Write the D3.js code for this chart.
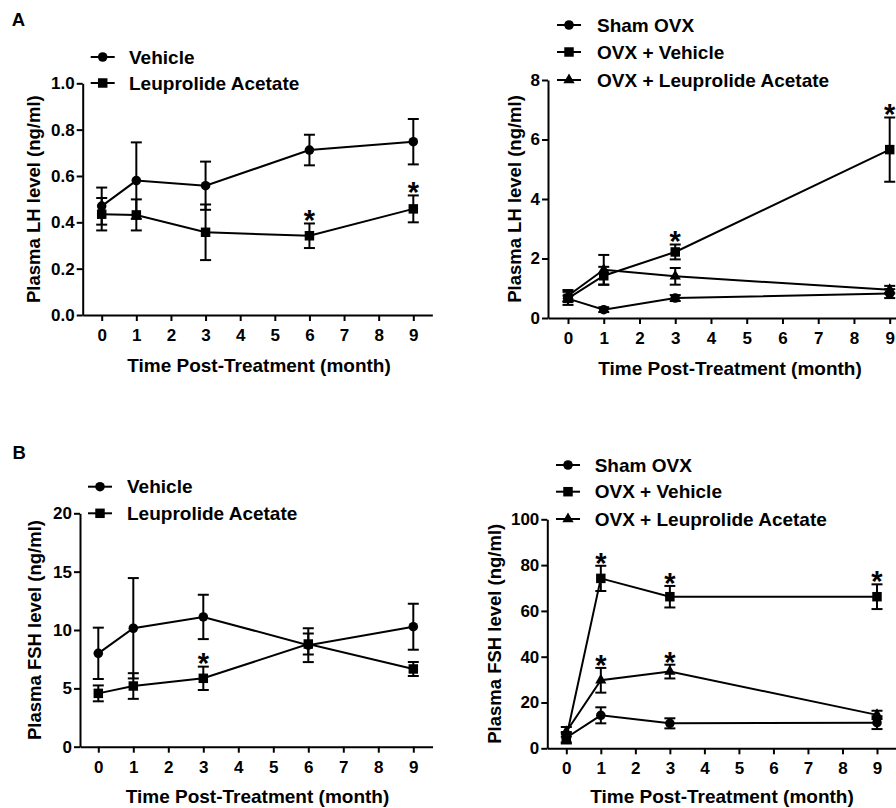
<!DOCTYPE html>
<html>
<head>
<meta charset="utf-8">
<script src="https://cdn.jsdelivr.net/npm/d3@7"></script>
<style>
body { margin: 0; background: #fff; }
text { font-family: "Liberation Sans", Arial, sans-serif; font-weight: bold; fill: #000; }
</style>
</head>
<body>
<script>
// ---- data ----
const monthTicks = [0, 1, 2, 3, 4, 5, 6, 7, 8, 9]

// A left: LH, vehicle vs leuprolide
const lhMonths = [0, 1, 3, 6, 9]
const lhVehicle = [0.47, 0.58, 0.558, 0.712, 0.748]
const lhVehicleErr = [0.08, 0.165, 0.104, 0.066, 0.098]
const lhLeup = [0.435, 0.432, 0.357, 0.342, 0.458]
const lhLeupErr = [0.07, 0.067, 0.12, 0.053, 0.058]
const lhLeupStars = [6, 9]
const lhTicks = [0, 0.2, 0.4, 0.6, 0.8, 1.0]

// A right: LH, OVX groups
const ovxMonths = [0, 1, 3, 9]
const lhSham = [0.65, 0.28, 0.67, 0.82]
const lhShamErr = [0.1, 0.08, 0.1, 0.15]
const lhOvxVeh = [0.66, 1.42, 2.22, 5.66]
const lhOvxVehErr = [0.22, 0.3, 0.25, 1.08]
const lhOvxLeup = [0.75, 1.62, 1.4, 0.95]
const lhOvxLeupErr = [0.19, 0.5, 0.28, 0.13]
const lhOvxVehStars = [3, 9]
const lhOvxTicks = [0, 2, 4, 6, 8]

// B left: FSH, vehicle vs leuprolide
const fshMonths = [0, 1, 3, 6, 9]
const fshVehicle = [8.0, 10.15, 11.12, 8.7, 10.28]
const fshVehicleErr = [2.2, 4.3, 1.9, 1.45, 1.97]
const fshLeup = [4.57, 5.2, 5.86, 8.8, 6.66]
const fshLeupErr = [0.68, 1.1, 1.0, 0.9, 0.6]
const fshLeupStars = [3]
const fshTicks = [0, 5, 10, 15, 20]

// B right: FSH, OVX groups
const fshSham = [4.6, 14.4, 10.9, 11.2]
const fshShamErr = [2.0, 3.5, 2.2, 2.8]
const fshOvxVeh = [4.6, 74.2, 66.2, 66.2]
const fshOvxVehErr = [2.5, 5.5, 4.7, 5.4]
const fshOvxLeup = [7.2, 29.7, 33.5, 14.6]
const fshOvxLeupErr = [2.1, 5.4, 3.0, 1.8]
const fshOvxVehStars = [1, 3, 9]
const fshOvxLeupStars = [1, 3]
const fshOvxTicks = [0, 20, 40, 60, 80, 100]

const w = 896
const h = 808

const svg = d3.select("body")
  .append("svg")
  .attr("width", w)
  .attr("height", h)

function marker(shape) {
  if (shape == "circle") return d3.symbol(d3.symbolCircle, 72)()
  if (shape == "square") return d3.symbol(d3.symbolSquare, 90)()
  return d3.symbol(d3.symbolTriangle, 55)()
}

function drawPanel(p) {
  const g = svg.append("g")

  const xscale = d3.scaleLinear()
    .domain([0, 9])
    .range([p.x0, p.x9])
  const yscale = d3.scaleLinear()
    .domain([0, p.yMax])
    .range([p.yBottom, p.yTop])

  // x axis runs from the y axis out past month 9
  const xAxisScale = d3.scaleLinear()
    .domain([xscale.invert(p.yAxisX), 9.55])
    .range([p.yAxisX, xscale(9.55)])

  const xAxis = d3.axisBottom(xAxisScale)
    .tickValues(monthTicks)
    .tickFormat(d3.format("d"))
    .tickSize(6)
    .tickSizeOuter(0)
    .tickPadding(8)
  g.append("g")
    .attr("transform", "translate(0," + p.yBottom + ")")
    .call(xAxis)

  const yAxis = d3.axisLeft(yscale)
    .tickValues(p.ticks)
    .tickFormat(p.fmt)
    .tickSize(6)
    .tickSizeOuter(0)
    .tickPadding(2)
  g.append("g")
    .attr("transform", "translate(" + p.yAxisX + ",0)")
    .call(yAxis)

  g.selectAll(".domain, .tick line")
    .attr("stroke", "#000")
    .attr("stroke-width", 2)
  g.selectAll(".tick text")
    .style("font-size", "17px")
    .style("font-family", "'Liberation Sans', Arial, sans-serif")
    .style("font-weight", "bold")
    .attr("fill", "#000")

  // axis titles
  g.append("text")
    .attr("x", p.titleX)
    .attr("y", p.titleY)
    .attr("text-anchor", "middle")
    .style("font-size", "19px")
    .text("Time Post-Treatment (month)")

  g.append("text")
    .attr("transform", "translate(" + p.yLabelX + "," + (p.yTop + p.yBottom) / 2 + ") rotate(-90)")
    .attr("text-anchor", "middle")
    .style("font-size", "18.5px")
    .text(p.yLabel)

  const line = d3.line()
    .x(d => xscale(d[0]))
    .y(d => yscale(d[1]))

  p.series.forEach(s => {
    const pts = s.months.map((m, i) => [m, s.values[i], s.errors[i]])

    // error bars
    const eb = g.append("g")
    eb.selectAll("line.stem")
      .data(pts)
      .enter()
      .append("line")
      .attr("x1", d => xscale(d[0]))
      .attr("x2", d => xscale(d[0]))
      .attr("y1", d => yscale(d[1] - d[2]))
      .attr("y2", d => yscale(d[1] + d[2]))
      .attr("stroke", "#000")
      .attr("stroke-width", 2)
    eb.selectAll("line.capTop")
      .data(pts)
      .enter()
      .append("line")
      .attr("x1", d => xscale(d[0]) - 5.5)
      .attr("x2", d => xscale(d[0]) + 5.5)
      .attr("y1", d => yscale(d[1] + d[2]))
      .attr("y2", d => yscale(d[1] + d[2]))
      .attr("stroke", "#000")
      .attr("stroke-width", 2)
    eb.selectAll("line.capBot")
      .data(pts)
      .enter()
      .append("line")
      .attr("x1", d => xscale(d[0]) - 5.5)
      .attr("x2", d => xscale(d[0]) + 5.5)
      .attr("y1", d => yscale(d[1] - d[2]))
      .attr("y2", d => yscale(d[1] - d[2]))
      .attr("stroke", "#000")
      .attr("stroke-width", 2)

    g.append("path")
      .datum(pts)
      .attr("d", line)
      .attr("fill", "none")
      .attr("stroke", "#000")
      .attr("stroke-width", 2)

    g.selectAll(null)
      .data(pts)
      .enter()
      .append("path")
      .attr("d", marker(s.shape))
      .attr("transform", d => "translate(" + xscale(d[0]) + "," + yscale(d[1]) + ")")
      .attr("fill", "#000")

    // significance stars above the upper error cap
    const starPts = pts.filter(d => (s.stars || []).includes(d[0]))
    g.selectAll(null)
      .data(starPts)
      .enter()
      .append("text")
      .attr("x", d => xscale(d[0]))
      .attr("y", d => yscale(d[1] + d[2]) - 10 + 0.58 * 29)
      .attr("text-anchor", "middle")
      .style("font-size", "29px")
      .style("font-weight", "bold")
      .text("*")
  })

  // legend
  p.series.forEach((s, i) => {
    const ly = p.legendY[i]
    g.append("line")
      .attr("x1", p.legendX)
      .attr("x2", p.legendX + 24)
      .attr("y1", ly)
      .attr("y2", ly)
      .attr("stroke", "#000")
      .attr("stroke-width", 2)
    g.append("path")
      .attr("d", marker(s.shape))
      .attr("transform", "translate(" + (p.legendX + 12) + "," + ly + ")")
      .attr("fill", "#000")
    g.append("text")
      .attr("x", p.legendTextX)
      .attr("y", ly + 6.5)
      .style("font-size", "19px")
      .text(s.name)
  })
}

drawPanel({
  x0: 101.7, x9: 413.3, yAxisX: 82.7, yTop: 83.3, yBottom: 315, yMax: 1.0,
  ticks: lhTicks, fmt: d3.format(".1f"), yLabel: "Plasma LH level (ng/ml)",
  yLabelX: 40, titleX: 259, titleY: 372,
  legendX: 90.7, legendY: [57, 83], legendTextX: 129,
  series: [
    { name: "Vehicle", shape: "circle", months: lhMonths, values: lhVehicle, errors: lhVehicleErr },
    { name: "Leuprolide Acetate", shape: "square", months: lhMonths, values: lhLeup, errors: lhLeupErr, stars: lhLeupStars }
  ]
})

drawPanel({
  x0: 568, x9: 889.7, yAxisX: 548, yTop: 80, yBottom: 318, yMax: 8,
  ticks: lhOvxTicks, fmt: d3.format("d"), yLabel: "Plasma LH level (ng/ml)",
  yLabelX: 521, titleX: 730, titleY: 375,
  legendX: 557, legendY: [25, 52, 80], legendTextX: 597,
  series: [
    { name: "Sham OVX", shape: "circle", months: ovxMonths, values: lhSham, errors: lhShamErr },
    { name: "OVX + Vehicle", shape: "square", months: ovxMonths, values: lhOvxVeh, errors: lhOvxVehErr, stars: lhOvxVehStars },
    { name: "OVX + Leuprolide Acetate", shape: "triangle", months: ovxMonths, values: lhOvxLeup, errors: lhOvxLeupErr }
  ]
})

drawPanel({
  x0: 98.3, x9: 413.3, yAxisX: 80, yTop: 513.3, yBottom: 746.7, yMax: 20,
  ticks: fshTicks, fmt: d3.format("d"), yLabel: "Plasma FSH level (ng/ml)",
  yLabelX: 41, titleX: 257.5, titleY: 803,
  legendX: 88, legendY: [486.7, 513.3], legendTextX: 127,
  series: [
    { name: "Vehicle", shape: "circle", months: fshMonths, values: fshVehicle, errors: fshVehicleErr },
    { name: "Leuprolide Acetate", shape: "square", months: fshMonths, values: fshLeup, errors: fshLeupErr, stars: fshLeupStars }
  ]
})

drawPanel({
  x0: 566.3, x9: 877, yAxisX: 547.3, yTop: 519.3, yBottom: 748.3, yMax: 100,
  ticks: fshOvxTicks, fmt: d3.format("d"), yLabel: "Plasma FSH level (ng/ml)",
  yLabelX: 501, titleX: 722, titleY: 803,
  legendX: 556, legendY: [465, 491.7, 519], legendTextX: 594.7,
  series: [
    { name: "Sham OVX", shape: "circle", months: ovxMonths, values: fshSham, errors: fshShamErr },
    { name: "OVX + Vehicle", shape: "square", months: ovxMonths, values: fshOvxVeh, errors: fshOvxVehErr, stars: fshOvxVehStars },
    { name: "OVX + Leuprolide Acetate", shape: "triangle", months: ovxMonths, values: fshOvxLeup, errors: fshOvxLeupErr, stars: fshOvxLeupStars }
  ]
})

// panel letters
svg.append("text").attr("x", 11.7).attr("y", 25.7).style("font-size", "18.5px").text("A")
svg.append("text").attr("x", 12.5).attr("y", 459).style("font-size", "18.5px").text("B")
</script>
</body>
</html>
